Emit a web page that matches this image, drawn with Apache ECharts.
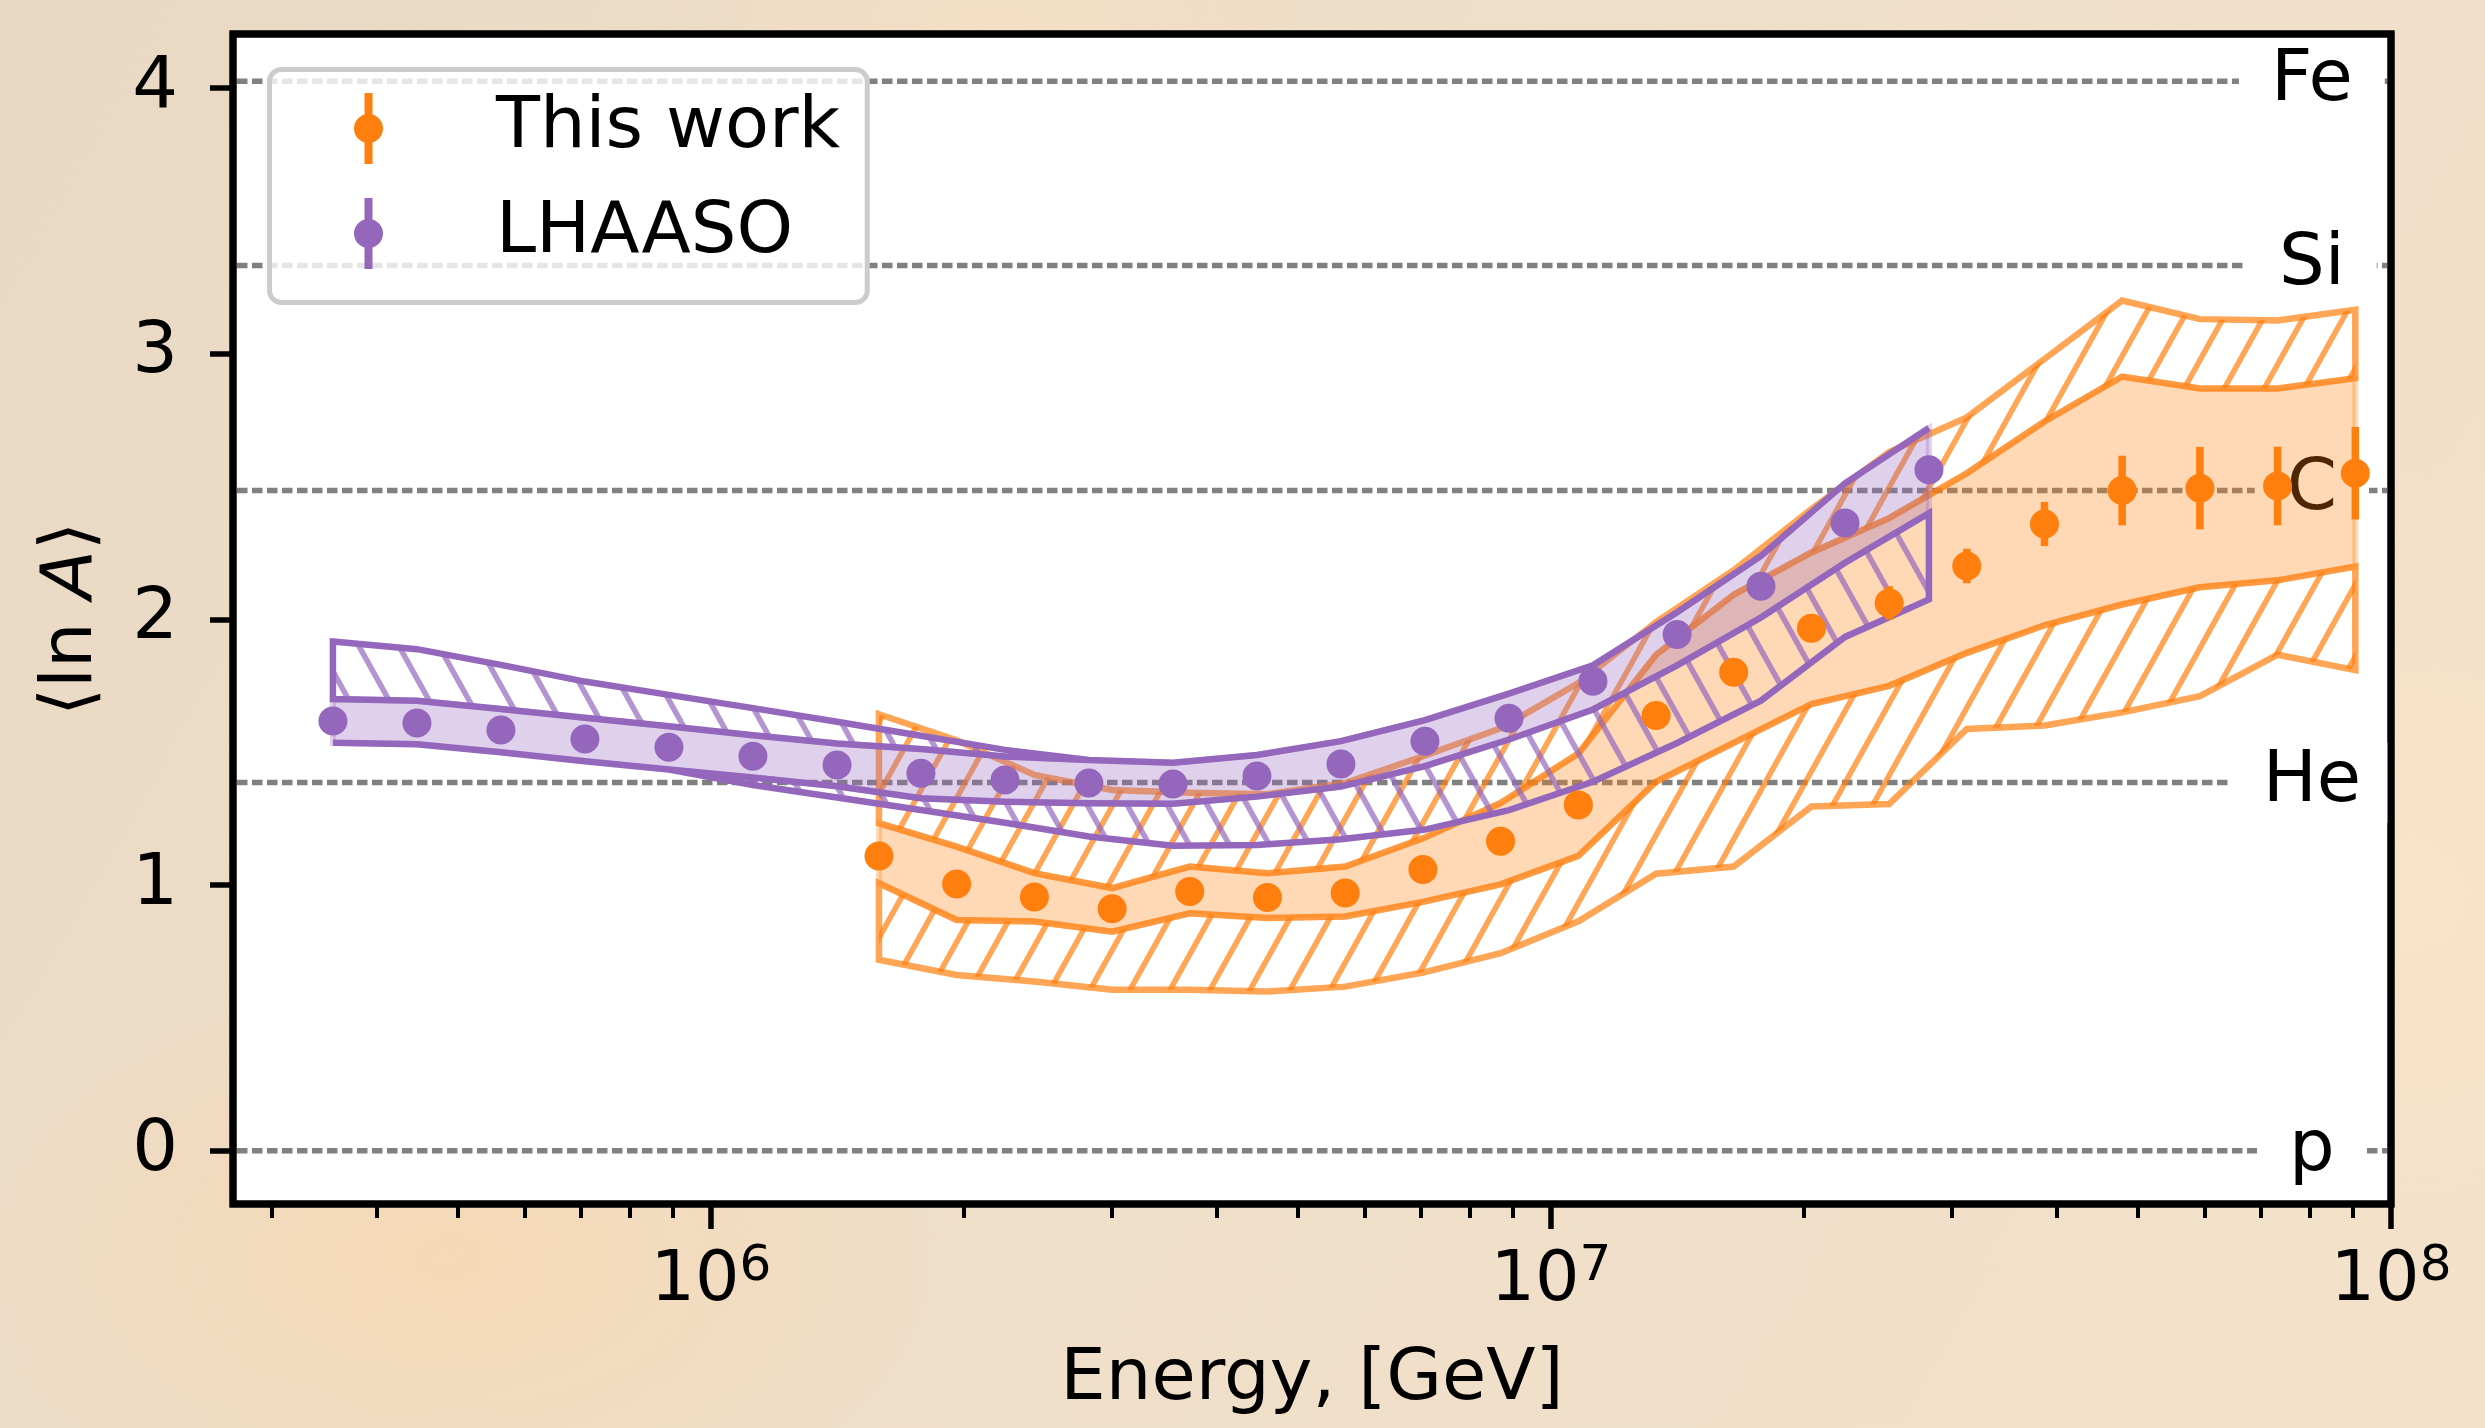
<!DOCTYPE html>
<html>
<head>
<meta charset="utf-8">
<script src="https://cdn.jsdelivr.net/npm/echarts@6/dist/echarts.min.js"></script>
<style>
html,body{margin:0;padding:0;width:2485px;height:1428px;overflow:hidden;}
body{
  background:
    radial-gradient(ellipse 700px 420px at 18% 88%, rgba(252,214,168,0.55), rgba(252,214,168,0) 70%),
    radial-gradient(ellipse 520px 620px at 97% 62%, rgba(252,228,200,0.7), rgba(252,228,200,0) 70%),
    radial-gradient(ellipse 500px 300px at 40% 2%, rgba(248,225,196,0.6), rgba(248,225,196,0) 70%),
    linear-gradient(120deg, #e9d9c4 0%, #efdec8 45%, #f3e1ca 100%);
}
#chart{width:2485px;height:1428px;}
</style>
</head>
<body>
<div id="chart"></div>
<script>
// ---------------- data ----------------
// LHAASO
const lhaasoE = [3.548e5, 4.467e5, 5.623e5, 7.079e5, 8.913e5, 1.122e6, 1.413e6, 1.778e6, 2.239e6, 2.818e6,
                 3.548e6, 4.467e6, 5.623e6, 7.079e6, 8.913e6, 1.122e7, 1.413e7, 1.778e7, 2.239e7, 2.818e7];
const lhaasoLnA = [1.618, 1.610, 1.584, 1.550, 1.519, 1.485, 1.452, 1.421, 1.396, 1.384,
                   1.381, 1.411, 1.456, 1.541, 1.628, 1.767, 1.943, 2.125, 2.363, 2.563];
const lhaasoStatHi = [1.700, 1.694, 1.663, 1.630, 1.598, 1.564, 1.533, 1.512, 1.484, 1.471,
                      1.461, 1.490, 1.542, 1.621, 1.721, 1.827, 2.027, 2.239, 2.512, 2.720];
const lhaasoSysHi = [1.917, 1.888, 1.829, 1.766, 1.716, 1.666, 1.615, 1.562, 1.509, 1.471,
                     1.461, 1.490, 1.542, 1.621, 1.721, 1.827, 2.027, 2.239, 2.512, 2.720];
const lhaasoStatLo = [1.536, 1.530, 1.500, 1.466, 1.435, 1.405, 1.372, 1.327, 1.314, 1.308,
                      1.306, 1.333, 1.371, 1.448, 1.548, 1.661, 1.827, 2.007, 2.213, 2.400];
const lhaasoSysLo = [1.536, 1.530, 1.500, 1.466, 1.435, 1.377, 1.330, 1.283, 1.235, 1.183,
                     1.148, 1.151, 1.173, 1.209, 1.282, 1.389, 1.535, 1.694, 1.934, 2.075];

// This work
const thisE = [1.585e6, 1.961e6, 2.427e6, 3.003e6, 3.715e6, 4.597e6, 5.689e6, 7.040e6, 8.710e6, 1.078e7,
               1.334e7, 1.650e7, 2.042e7, 2.527e7, 3.126e7, 3.868e7, 4.786e7, 5.923e7, 7.328e7, 9.068e7];
const thisLnA = [1.110, 1.004, 0.955, 0.911, 0.976, 0.953, 0.970, 1.059, 1.165, 1.302,
                 1.638, 1.801, 1.967, 2.062, 2.201, 2.359, 2.485, 2.494, 2.502, 2.550];
const thisErr = [0.030, 0.030, 0.030, 0.030, 0.030, 0.030, 0.030, 0.035, 0.035, 0.040,
                 0.040, 0.045, 0.050, 0.063, 0.065, 0.083, 0.131, 0.155, 0.148, 0.174];
const thisStatHi = [1.233, 1.145, 1.045, 0.989, 1.070, 1.045, 1.070, 1.176, 1.309, 1.495,
                    1.867, 2.093, 2.252, 2.381, 2.550, 2.745, 2.914, 2.869, 2.869, 2.908];
const thisStatLo = [1.007, 0.869, 0.863, 0.825, 0.894, 0.876, 0.882, 0.937, 1.003, 1.110,
                    1.389, 1.535, 1.681, 1.750, 1.874, 1.978, 2.056, 2.121, 2.147, 2.199];
const thisSysHi = [1.643, 1.545, 1.415, 1.358, 1.348, 1.342, 1.384, 1.485, 1.590, 1.760,
                   1.990, 2.185, 2.415, 2.630, 2.760, 2.980, 3.200, 3.130, 3.125, 3.165];
const thisSysLo = [0.719, 0.662, 0.637, 0.606, 0.606, 0.600, 0.618, 0.671, 0.744, 0.864,
                   1.043, 1.070, 1.296, 1.305, 1.588, 1.601, 1.650, 1.711, 1.867, 1.809];

// reference elements
const elemNames = ['p', 'He', 'C', 'Si', 'Fe'];
const elemLnA = [0, 1.386, 2.485, 3.332, 4.025];

// axes
const xMin = 2.698e5, xMax = 1e8;
const yMin = -0.2, yMax = 4.203;
const yTicks = [0, 1, 2, 3, 4];
const xMajorTicks = [1e6, 1e7, 1e8];
const xMinorTicks = [3e5, 4e5, 5e5, 6e5, 7e5, 8e5, 9e5,
                     2e6, 3e6, 4e6, 5e6, 6e6, 7e6, 8e6, 9e6,
                     2e7, 3e7, 4e7, 5e7, 6e7, 7e7, 8e7, 9e7];
const labelE = 8.05e7;

// ---------------- helpers ----------------
const FONT = 'DejaVu Sans';
const ORANGE = '#ff7f0e', PURPLE = '#9467bd';

function hatchPattern(color, dir, w, h, lw) {
  const c = document.createElement('canvas');
  c.width = w; c.height = h;
  const ctx = c.getContext('2d');
  ctx.strokeStyle = color; ctx.lineWidth = lw; ctx.lineCap = 'butt';
  for (let k = -1; k <= 1; k++) {
    const ox = k * w;
    ctx.beginPath();
    if (dir === '/') { ctx.moveTo(ox - w, 2 * h); ctx.lineTo(ox + 2 * w, -h); }
    else { ctx.moveTo(ox - w, -h); ctx.lineTo(ox + 2 * w, 2 * h); }
    ctx.stroke();
  }
  return { image: c, repeat: 'repeat' };
}

function bandSeries(name, E, lo, hi, style, z) {
  return {
    type: 'custom', name: name, z: z, silent: true,
    data: [[E[0], lo[0]]],
    renderItem: function (params, api) {
      const pts = [];
      for (let i = 0; i < E.length; i++) pts.push(api.coord([E[i], hi[i]]));
      for (let i = E.length - 1; i >= 0; i--) pts.push(api.coord([E[i], lo[i]]));
      return { type: 'polygon', shape: { points: pts }, style: style };
    }
  };
}

const orangeHatch = hatchPattern('rgba(255,127,14,0.7)', '/', 40, 72, 5.5);
const purpleHatch = hatchPattern('rgba(148,103,189,0.7)', '\\', 40, 72, 5.5);

const orangeFillStyle = { fill: 'rgba(255,127,14,0.3)', stroke: 'rgba(255,127,14,0.3)', lineWidth: 6, lineJoin: 'miter' };
const orangeHatchStyle = { fill: orangeHatch, stroke: 'rgba(255,127,14,0.7)', lineWidth: 6.5, lineJoin: 'miter' };
const purpleFillStyle = { fill: 'rgba(148,103,189,0.3)', stroke: 'rgba(148,103,189,0.3)', lineWidth: 6, lineJoin: 'miter' };
const purpleHatchStyle = { fill: purpleHatch, stroke: PURPLE, lineWidth: 6.5, lineJoin: 'miter' };

const legendIcon = 'path://M10.5 0 L18.5 0 L18.5 71 L10.5 71 Z M0 35.5 A14.5 14.5 0 1 1 29 35.5 A14.5 14.5 0 1 1 0 35.5 Z';

// plot frame (layout only)
const G = { left: 233, right: 94, top: 34, bottom: 224 };

// ---------------- chart ----------------
const chart = echarts.init(document.getElementById('chart'), null, { renderer: 'canvas' });

const option = {
  animation: false,
  backgroundColor: 'transparent',
  textStyle: { fontFamily: FONT },
  grid: {
    left: G.left, right: G.right, top: G.top, bottom: G.bottom,
    show: true, backgroundColor: '#ffffff', borderColor: '#000000', borderWidth: 7,
    containLabel: false, outerBoundsMode: 'none'
  },
  graphic: [{
    type: 'rect', z: 100, silent: true,
    shape: { x: G.left, y: G.top, width: 2485 - G.left - G.right, height: 1428 - G.top - G.bottom },
    style: { fill: null, stroke: '#000000', lineWidth: 7 }
  }],
  legend: {
    orient: 'vertical', left: 269.5, top: 69.5, z: 20, selectedMode: false,
    padding: [23, 27, 33, 84.5], itemGap: 33, itemWidth: 29, itemHeight: 71,
    backgroundColor: 'rgba(255,255,255,0.8)', borderColor: '#cccccc', borderWidth: 5, borderRadius: 12,
    textStyle: { fontSize: 72, color: '#000', fontFamily: FONT, padding: [0, 0, 0, 108], lineHeight: 71 },
    data: [{ name: 'This work', icon: legendIcon }, { name: 'LHAASO', icon: legendIcon }]
  },
  xAxis: [
    {
      type: 'log', logBase: 10, min: xMin, max: xMax, position: 'bottom',
      axisLine: { show: false, onZero: false }, splitLine: { show: false },
      axisTick: { show: true, length: 25, lineStyle: { width: 5.5, color: '#000' }, customValues: xMajorTicks },
      axisLabel: {
        customValues: xMajorTicks, margin: 38,
        formatter: function (v) { return '{b|10}{s|' + Math.round(Math.log10(v)) + '}'; },
        rich: {
          b: { fontSize: 70, lineHeight: 80, fontFamily: FONT, color: '#000' },
          s: { fontSize: 50, lineHeight: 40, verticalAlign: 'top', fontFamily: FONT, color: '#000' }
        }
      },
      name: 'Energy, [GeV]', nameLocation: 'middle', nameGap: 140,
      nameTextStyle: { fontSize: 72, color: '#000', fontFamily: FONT }
    },
    {
      type: 'log', logBase: 10, min: xMin, max: xMax, position: 'bottom', gridIndex: 0,
      axisLine: { show: false, onZero: false }, splitLine: { show: false }, axisLabel: { show: false },
      axisTick: { show: true, length: 14, lineStyle: { width: 4, color: '#000' }, customValues: xMinorTicks }
    }
  ],
  yAxis: {
    type: 'value', min: yMin, max: yMax,
    axisLine: { show: false, onZero: false }, splitLine: { show: false },
    axisTick: { show: true, length: 23, lineStyle: { width: 5.5, color: '#000' }, customValues: yTicks },
    axisLabel: { customValues: yTicks, fontSize: 72, margin: 55, color: '#000', fontFamily: FONT },
    name: '{n|\u27E8ln }{i|A}{n|\u27E9}', nameLocation: 'middle', nameGap: 125, nameRotate: 90,
    nameTextStyle: {
      fontSize: 72, color: '#000', fontFamily: FONT,
      rich: {
        n: { fontSize: 72, color: '#000', fontFamily: FONT },
        i: { fontSize: 72, color: '#000', fontFamily: FONT, fontStyle: 'italic' }
      }
    }
  },
  series: [
    {
      type: 'custom', name: 'refLines', z: 1, silent: true,
      data: elemLnA.map(function (v, i) { return [labelE, v, i]; }),
      renderItem: function (params, api) {
        const v = api.value(1);
        const idx = api.value(2);
        const l = api.coord([xMin, v]);
        const r = api.coord([xMax, v]);
        const m = api.coord([labelE, v]);
        return {
          type: 'group',
          children: [
            { type: 'line', shape: { x1: l[0] + 4, y1: l[1], x2: r[0] - 4, y2: r[1] },
              style: { stroke: '#808080', lineWidth: 5.5, lineDash: [10.5, 4.5] } },
            { type: 'text', x: m[0], y: m[1],
              style: { text: elemNames[idx], fill: '#000', fontSize: 72, fontFamily: FONT,
                       align: 'center', verticalAlign: 'middle',
                       backgroundColor: '#ffffff', padding: [4, 32] } }
          ]
        };
      }
    },
    bandSeries('thisFill', thisE, thisStatLo, thisStatHi, orangeFillStyle, 2),
    bandSeries('thisHatchUp', thisE, thisStatHi, thisSysHi, orangeHatchStyle, 3),
    bandSeries('thisHatchLo', thisE, thisSysLo, thisStatLo, orangeHatchStyle, 3),
    bandSeries('lhaasoFill', lhaasoE, lhaasoStatLo, lhaasoStatHi, purpleFillStyle, 4),
    bandSeries('lhaasoHatchUp', lhaasoE, lhaasoStatHi, lhaasoSysHi, purpleHatchStyle, 5),
    bandSeries('lhaasoHatchLo', lhaasoE, lhaasoSysLo, lhaasoStatLo, purpleHatchStyle, 5),
    {
      type: 'custom', name: 'thisErr', z: 6, silent: true,
      data: thisE.map(function (e, i) { return [e, thisLnA[i], thisErr[i]]; }),
      renderItem: function (params, api) {
        const e = api.value(0), v = api.value(1), er = api.value(2);
        const p1 = api.coord([e, v - er]);
        const p2 = api.coord([e, v + er]);
        return { type: 'line', shape: { x1: p1[0], y1: p1[1], x2: p2[0], y2: p2[1] },
                 style: { stroke: ORANGE, lineWidth: 7.5 } };
      }
    },
    {
      type: 'scatter', name: 'This work', z: 7, silent: true,
      symbol: 'circle', symbolSize: 29,
      itemStyle: { color: ORANGE, opacity: 1 },
      data: thisE.map(function (e, i) { return [e, thisLnA[i]]; })
    },
    {
      type: 'scatter', name: 'LHAASO', z: 7, silent: true,
      symbol: 'circle', symbolSize: 29,
      itemStyle: { color: PURPLE, opacity: 1 },
      data: lhaasoE.map(function (e, i) { return [e, lhaasoLnA[i]]; })
    }
  ]
};
chart.setOption(option);
</script>
</body>
</html>
